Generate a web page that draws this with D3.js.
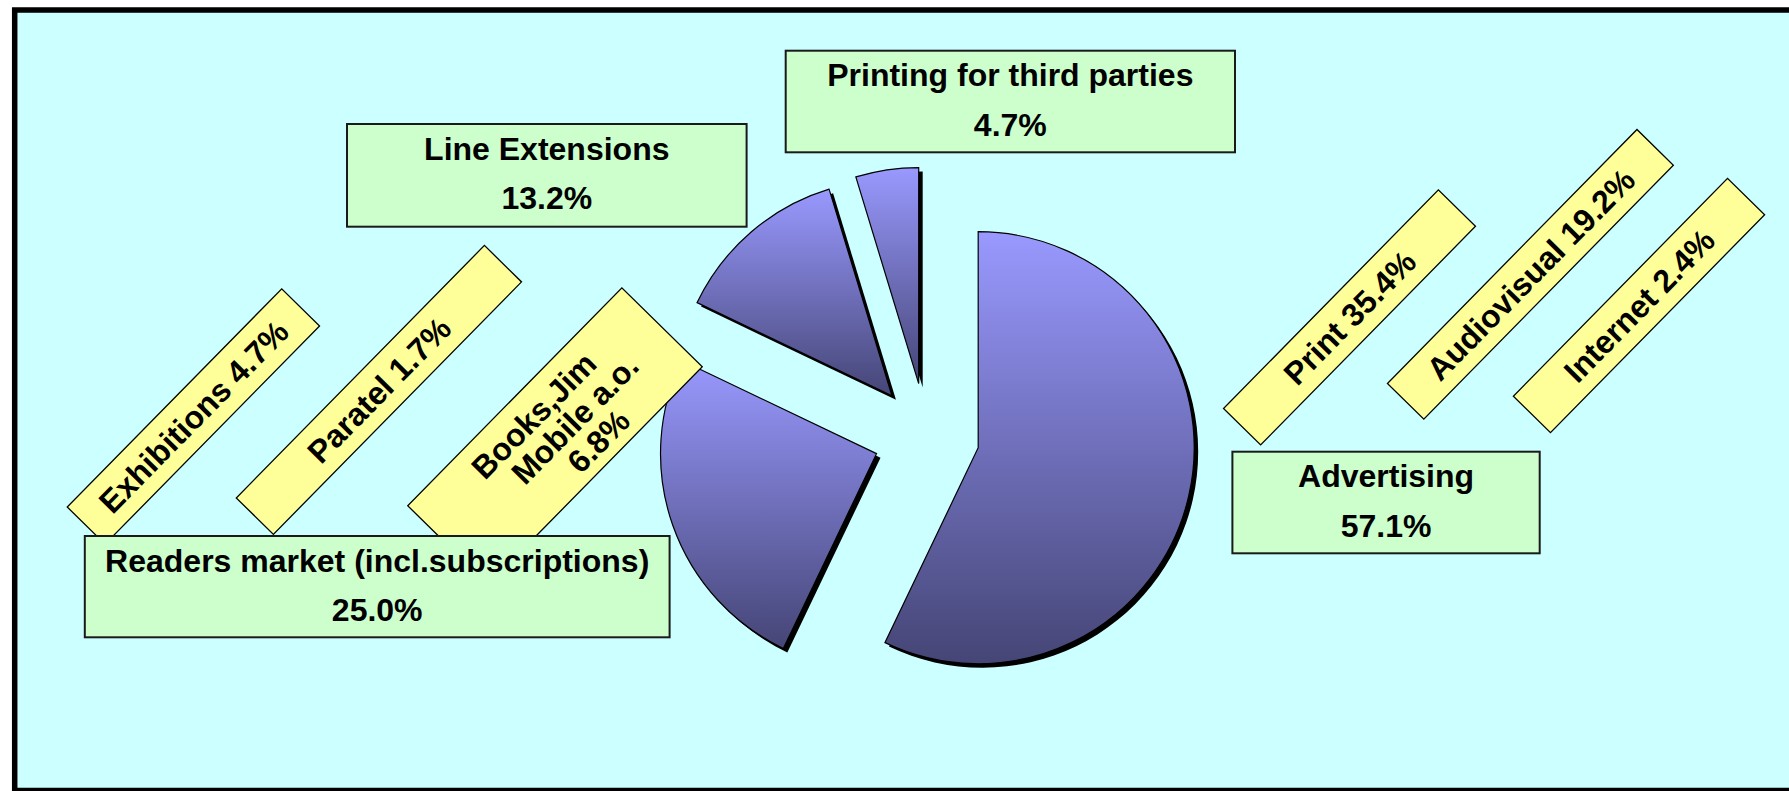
<!DOCTYPE html>
<html><head><meta charset="utf-8">
<script src="https://cdn.jsdelivr.net/npm/d3@7"></script>
<style>html,body{margin:0;padding:0;background:#fff;overflow:hidden}</style>
</head><body>
<svg id="chart" width="1789" height="791"></svg>
<script>
// ---- data ----
const categories = ["Advertising", "Readers market (incl.subscriptions)", "Line Extensions", "Printing for third parties"];
const shares = [57.1, 25.0, 13.2, 4.7];
const subCategories = ["Exhibitions", "Paratel", "Books,Jim\nMobile a.o.", "Print", "Audiovisual", "Internet"];
const subShares = [4.7, 1.7, 6.8, 35.4, 19.2, 2.4];

// ---- layout ----
const fmt = d3.format(".1f");
const FONT = "'Liberation Sans', Arial, sans-serif";
const svg = d3.select("#chart");

const defs = svg.append("defs");
const grad = defs.append("linearGradient").attr("id", "sliceGrad")
  .attr("x1", 0).attr("y1", 0).attr("x2", 0).attr("y2", 1);
grad.append("stop").attr("offset", "0%").attr("stop-color", "#9999FF");
grad.append("stop").attr("offset", "100%").attr("stop-color", "#454576");

// frame
svg.append("rect").attr("x", 14.7).attr("y", 10).attr("width", 1800).attr("height", 780.5)
  .attr("fill", "#CCFFFF").attr("stroke", "#000").attr("stroke-width", 5.5);

// pie
const R = 216, center = [926.5, 436], explode = 53;
const pieData = d3.pie().sort(null).value(d => d).startAngle(0).endAngle(2 * Math.PI)(shares);
const arc = d3.arc().innerRadius(0).outerRadius(R);
const pieG = svg.append("g").attr("transform", `translate(${center[0]},${center[1]})`);
const off = d => { const m = (d.startAngle + d.endAngle) / 2; return [explode * Math.sin(m), -explode * Math.cos(m)]; };

pieG.selectAll("path.shadow").data(pieData).join("path").attr("class", "shadow")
  .attr("d", arc).attr("fill", "#000")
  .attr("transform", d => { const o = off(d); return `translate(${o[0] + 4},${o[1] + 4})`; });
pieG.selectAll("path.slice").data(pieData).join("path").attr("class", "slice")
  .attr("d", arc).attr("fill", "url(#sliceGrad)").attr("stroke", "#000").attr("stroke-width", 1.2)
  .attr("transform", d => { const o = off(d); return `translate(${o[0]},${o[1]})`; });

// rotated yellow sub-labels
const subBoxes = [
  {cx: 193.4, cy: 416.5, w: 306, h: 53},
  {cx: 378.9, cy: 389.9, w: 354, h: 52},
  {cx: 555, cy: 436.3, w: 305.5, h: 112.7},
  {cx: 1349.5, cy: 317.4, w: 306.5, h: 52},
  {cx: 1530.4, cy: 274.3, w: 356, h: 51},
  {cx: 1639, cy: 305.5, w: 305.5, h: 52}
];
const multiLineDx = [0, 26, 27];
const subG = svg.selectAll("g.sub").data(subCategories).join("g").attr("class", "sub")
  .attr("transform", (d, i) => `translate(${subBoxes[i].cx},${subBoxes[i].cy}) rotate(-45.5)`);
subG.append("rect")
  .attr("x", (d, i) => -subBoxes[i].w / 2).attr("y", (d, i) => -subBoxes[i].h / 2)
  .attr("width", (d, i) => subBoxes[i].w).attr("height", (d, i) => subBoxes[i].h)
  .attr("fill", "#FFFF99").attr("stroke", "#000").attr("stroke-width", 1.3);
subG.each(function (d, i) {
  const pct = fmt(subShares[i]) + "%";
  const lines = d.includes("\n") ? d.split("\n").concat([pct]) : [d + " " + pct];
  const g = d3.select(this);
  const spacing = 32;
  lines.forEach((ln, k) => {
    const vy = (k - (lines.length - 1) / 2) * spacing + (lines.length > 1 ? 2 : 0) + 11.5;
    g.append("text").attr("x", lines.length > 1 ? multiLineDx[k] : 0).attr("y", vy)
      .attr("text-anchor", "middle").attr("font-family", FONT).attr("font-weight", "bold")
      .attr("font-size", 32).attr("fill", "#000").text(ln);
  });
});

// green category boxes
const mainBoxes = [
  {x: 1232.4, y: 451.7, w: 307.3, h: 101.6},
  {x: 84.8, y: 536, w: 584.8, h: 101.3},
  {x: 347, y: 124, w: 399.6, h: 102.7},
  {x: 785.7, y: 50.7, w: 449.3, h: 101.6}
];
const mainG = svg.selectAll("g.main").data(categories).join("g").attr("class", "main")
  .attr("transform", (d, i) => `translate(${mainBoxes[i].x},${mainBoxes[i].y})`);
mainG.append("rect")
  .attr("width", (d, i) => mainBoxes[i].w).attr("height", (d, i) => mainBoxes[i].h)
  .attr("fill", "#CCFFCC").attr("stroke", "#1a1a1a").attr("stroke-width", 2);
mainG.append("text").attr("x", (d, i) => mainBoxes[i].w / 2).attr("y", 35.5)
  .attr("text-anchor", "middle").attr("font-family", FONT).attr("font-weight", "bold")
  .attr("font-size", 32).text(d => d);
mainG.append("text").attr("x", (d, i) => mainBoxes[i].w / 2).attr("y", 85)
  .attr("text-anchor", "middle").attr("font-family", FONT).attr("font-weight", "bold")
  .attr("font-size", 32).text((d, i) => fmt(shares[i]) + "%");
</script>
</body></html>
